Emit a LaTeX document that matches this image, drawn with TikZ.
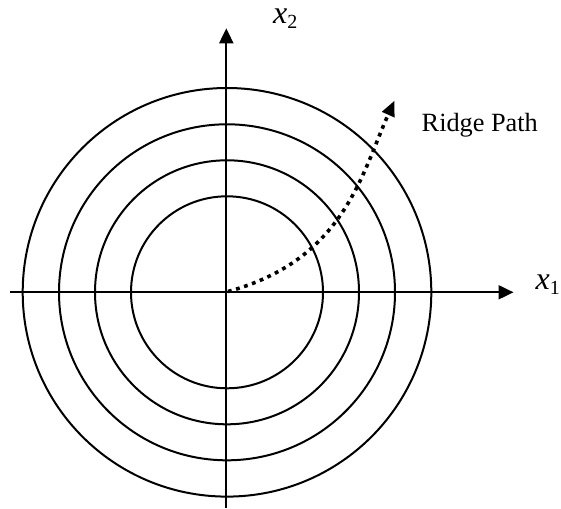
\documentclass[tikz,border=0pt]{standalone}
\usepackage{fontspec}
\setmainfont{Liberation Serif}
\usetikzlibrary{arrows.meta}
\tikzset{
  axisline/.style={line width=2pt,-{Triangle[length=15pt,width=14pt]}},
  ring/.style={line width=2pt},
  ridgeline/.style={line width=3.6pt,dash pattern=on 3.8pt off 4.6pt,-{Triangle[length=15pt,width=14pt,line width=0pt]}},
  lab/.style={inner sep=0pt,font=\fontsize{26.3}{30}\selectfont},
  axlab/.style={inner sep=0pt,font=\fontsize{32}{36}\selectfont\itshape}
}
\newcommand{\mysub}[1]{\raisebox{-5pt}{\upshape\fontsize{20}{22}\selectfont #1}}
\begin{document}
\begin{tikzpicture}[x=1pt,y=-1pt]
\useasboundingbox (0,0) rectangle (561,508);
\coordinate (O) at (227,292.3);
\coordinate (hl) at (10,292.3);
\coordinate (hr) at (513.5,292.3);
\coordinate (vb) at (226.3,508);
\coordinate (vt) at (226.3,28.3);
\coordinate (rs) at (228,291.5);
\coordinate (rt) at (394.3,101);
\draw[ring] (O) circle[radius=96];
\draw[ring] (O) circle[radius=132];
\draw[ring] (O) circle[radius=168];
\draw[ring] (O) circle[radius=204.3];
\draw[axisline] (hl) -- (hr);
\draw[axisline] (vb) -- (vt);
\draw[ridgeline] (rs) .. controls (343.9,259.9) and (361.5,174.1) .. (rt);
\node[axlab,anchor=base west] (x1) at (535.5,289) {x\mysub{1}};
\node[axlab,anchor=base west] (x2) at (273,24) {x\mysub{2}};
\node[lab,anchor=base west] (rp) at (421.5,131.5) {Ridge Path};
\end{tikzpicture}
\end{document}
